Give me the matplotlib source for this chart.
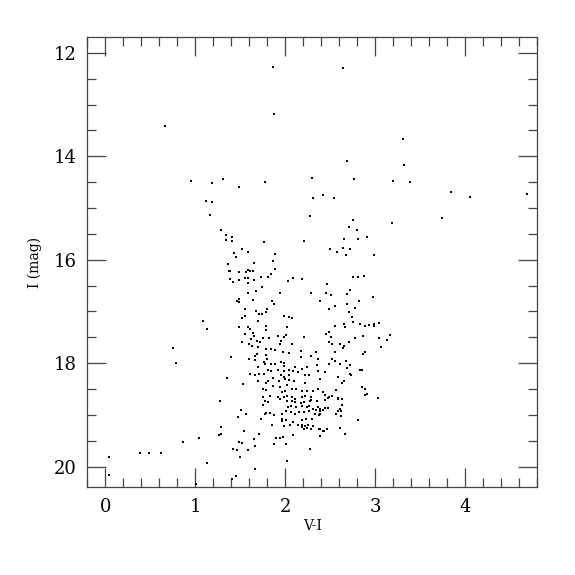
import matplotlib
matplotlib.use("Agg")
import matplotlib.pyplot as plt
from matplotlib.ticker import MultipleLocator

# colour-magnitude data: (V-I, I)
pts = [
    (1.86, 12.27), (2.64, 12.29), (0.66, 13.42), (1.87, 13.19), (3.31, 13.66),
    (2.68, 14.10), (3.32, 14.16), (0.95, 14.47), (1.18, 14.52), (1.31, 14.43),
    (1.48, 14.60), (1.77, 14.49), (2.30, 14.42), (2.76, 14.44), (3.20, 14.47),
    (3.39, 14.50), (3.84, 14.70), (4.05, 14.79), (4.69, 14.73), (2.31, 14.80),
    (2.42, 14.75), (2.54, 14.80), (1.12, 14.87), (1.18, 14.88), (1.16, 15.13),
    (2.27, 15.16), (2.75, 15.24), (2.71, 15.37), (3.18, 15.29), (3.74, 15.19),
    (1.28, 15.42), (1.34, 15.52), (1.34, 15.62), (1.36, 16.08), (1.37, 16.22),
    (1.09, 17.19), (1.13, 17.34), (0.75, 17.71), (0.79, 18.00), (1.35, 18.28),
    (1.27, 18.74), (1.28, 19.24), (1.28, 19.37), (1.26, 19.39), (0.86, 19.52),
    (1.04, 19.44), (0.38, 19.73), (0.49, 19.73), (0.62, 19.73), (1.13, 19.93),
    (1.01, 20.34), (0.04, 19.81), (0.04, 20.16),
    (1.41, 15.56), (1.41, 15.64), (1.76, 15.65), (2.21, 15.64), (1.52, 15.79),
    (1.58, 15.85), (1.43, 15.87), (1.45, 15.95), (1.89, 15.88), (1.65, 16.06),
    (1.86, 16.02), (1.88, 16.17), (1.39, 16.22), (1.48, 16.23), (1.56, 16.23),
    (1.58, 16.20), (1.61, 16.21), (1.64, 16.22), (1.84, 16.27), (1.39, 16.37),
    (1.42, 16.44), (1.55, 16.35), (1.58, 16.35), (1.48, 16.40), (1.59, 16.45),
    (1.65, 16.39), (1.73, 16.34), (1.81, 16.33), (2.03, 16.42), (2.09, 16.36),
    (2.18, 16.38), (1.74, 16.53), (1.58, 16.64), (1.67, 16.61), (1.94, 16.65),
    (2.29, 16.65), (1.46, 16.79), (1.48, 16.76), (1.64, 16.77), (1.85, 16.79),
    (1.87, 16.85), (1.48, 16.81), (1.55, 16.96), (1.80, 16.96), (2.38, 16.80),
    (1.67, 17.00), (1.71, 17.05), (1.74, 17.05), (1.79, 17.01), (1.55, 17.09),
    (1.52, 17.13), (1.98, 17.09), (2.04, 17.11), (2.07, 17.13), (1.70, 17.19),
    (1.48, 17.30), (1.59, 17.31), (1.61, 17.34), (1.78, 17.28), (1.79, 17.35),
    (2.02, 17.31), (1.55, 17.44), (1.64, 17.42), (1.65, 17.47), (1.75, 17.52),
    (1.62, 17.53), (1.82, 17.51), (1.92, 17.47), (1.99, 17.50), (2.01, 17.46),
    (2.21, 17.49), (1.52, 17.59), (1.60, 17.63), (1.68, 17.58), (1.72, 17.60),
    (1.95, 17.58), (1.94, 17.63), (2.07, 17.63), (1.63, 17.67), (1.70, 17.69),
    (1.79, 17.73), (1.84, 17.73), (1.89, 17.75), (2.17, 17.76), (2.34, 17.78),
    (1.40, 17.88), (1.60, 17.92), (1.66, 17.87), (1.68, 17.83), (1.78, 17.84),
    (1.80, 17.91), (1.97, 17.79), (2.04, 17.80), (2.17, 17.89), (2.29, 17.86),
    (2.36, 17.91), (1.66, 17.94), (1.76, 17.97), (1.77, 18.02), (1.84, 18.02),
    (1.88, 18.02), (1.95, 17.98), (1.99, 18.00), (1.98, 18.05), (1.70, 18.08),
    (2.11, 18.07), (2.24, 18.07), (2.35, 18.03), (1.81, 18.13), (1.84, 18.15),
    (1.92, 18.13), (2.04, 18.13), (2.08, 18.15), (1.99, 18.16), (2.19, 18.12),
    (2.14, 18.17), (2.36, 18.16), (1.61, 18.21), (1.71, 18.21), (1.66, 18.23),
    (1.76, 18.20), (1.95, 18.22), (2.04, 18.23), (2.22, 18.22), (2.26, 18.22),
    (1.98, 18.26), (2.00, 18.31), (1.81, 18.34), (1.86, 18.29), (1.70, 18.34),
    (1.93, 18.35), (2.04, 18.32), (2.10, 18.35), (1.53, 18.41), (1.79, 18.38),
    (2.02, 18.42), (2.22, 18.39), (1.86, 18.45), (1.94, 18.47), (1.75, 18.50),
    (1.78, 18.52), (2.07, 18.49), (2.12, 18.50), (2.24, 18.53), (2.31, 18.54),
    (2.18, 18.54), (1.96, 18.56), (2.00, 18.54), (2.36, 18.49), (1.83, 18.63),
    (1.92, 18.65), (1.98, 18.65), (2.02, 18.63), (2.07, 18.66), (2.18, 18.66),
    (2.22, 18.64), (2.28, 18.66), (1.75, 18.66), (1.94, 18.70), (2.11, 18.70),
    (2.29, 18.71),
    (1.77, 18.73), (1.81, 18.76), (1.75, 18.80), (2.02, 18.74), (2.07, 18.74),
    (2.11, 18.75), (2.17, 18.77), (2.21, 18.75), (2.27, 18.74), (2.35, 18.74),
    (2.06, 18.83), (2.03, 18.85), (2.12, 18.84), (2.18, 18.83), (2.24, 18.85),
    (2.26, 18.83), (2.31, 18.89), (2.36, 18.84), (1.51, 18.91), (2.01, 18.92),
    (2.06, 18.94), (2.15, 18.94), (2.21, 18.94), (2.26, 18.93), (2.34, 18.91),
    (1.79, 18.97), (1.83, 18.97), (1.87, 19.01), (1.56, 18.99), (1.77, 18.99),
    (1.96, 18.98), (2.11, 18.99), (2.33, 18.99), (2.37, 19.00), (1.47, 19.05),
    (1.73, 19.08), (1.96, 19.07), (2.01, 19.10), (1.96, 19.12), (2.18, 19.10),
    (2.23, 19.08), (2.30, 19.08), (2.08, 19.14), (1.85, 19.20), (2.05, 19.20),
    (2.14, 19.19), (2.19, 19.19), (2.22, 19.21), (2.25, 19.19), (2.31, 19.21),
    (1.99, 19.21), (2.18, 19.24), (2.24, 19.25), (2.28, 19.27), (2.21, 19.28),
    (2.37, 19.27), (1.54, 19.31), (1.71, 19.36), (2.09, 19.39), (1.65, 19.46),
    (1.90, 19.45), (1.94, 19.44), (1.97, 19.43), (1.49, 19.52), (1.52, 19.55),
    (2.01, 19.56), (1.87, 19.57), (1.66, 19.60), (2.27, 19.65), (1.42, 19.65),
    (1.46, 19.68), (1.59, 19.67), (1.50, 19.81), (2.02, 19.90), (1.66, 20.04),
    (1.45, 20.18), (1.41, 20.23),
    (2.80, 15.42), (2.65, 15.60), (2.81, 15.60), (2.91, 15.57), (2.50, 15.79),
    (2.57, 15.86), (2.64, 15.77), (2.72, 15.79), (2.67, 15.90), (2.98, 15.91),
    (2.75, 16.33), (2.81, 16.33), (2.87, 16.31), (2.46, 16.47), (2.45, 16.64),
    (2.51, 16.69), (2.72, 16.58), (2.69, 16.66), (2.97, 16.73), (2.82, 16.79),
    (2.55, 16.89), (2.49, 16.96), (2.68, 16.86), (2.77, 16.94), (2.71, 17.01),
    (2.74, 17.11), (2.75, 17.21), (2.65, 17.24), (2.66, 17.31), (2.55, 17.29),
    (2.83, 17.24), (2.89, 17.29), (2.93, 17.27), (2.98, 17.25), (2.98, 17.29),
    (3.04, 17.23), (2.45, 17.43), (2.48, 17.40), (2.51, 17.49), (2.77, 17.51),
    (2.86, 17.47), (3.04, 17.51), (3.16, 17.46), (3.13, 17.56), (3.06, 17.69),
    (2.49, 17.59), (2.52, 17.62), (2.61, 17.62), (2.65, 17.67), (2.64, 17.70),
    (2.71, 17.59), (2.55, 17.78), (2.88, 17.78), (2.86, 17.82), (2.52, 17.92),
    (2.55, 17.95), (2.49, 18.02), (2.61, 18.02), (2.67, 17.96), (2.72, 18.04),
    (2.69, 18.09), (2.83, 18.13), (2.85, 18.13), (2.44, 18.18), (2.72, 18.20),
    (2.73, 18.23), (2.39, 18.31), (2.58, 18.26), (2.63, 18.38), (2.65, 18.35),
    (2.85, 18.47), (2.89, 18.50), (2.91, 18.59), (2.88, 18.61), (2.56, 18.52),
    (3.03, 18.67), (2.42, 18.55), (2.44, 18.62), (2.52, 18.63), (2.47, 18.67),
    (2.49, 18.65), (2.59, 18.68), (2.63, 18.69), (2.59, 18.70), (2.44, 18.71),
    (2.63, 18.81), (2.39, 18.88), (2.42, 18.91), (2.44, 18.87), (2.47, 18.87),
    (2.38, 18.92), (2.39, 18.98), (2.59, 18.92), (2.61, 18.89), (2.62, 18.92),
    (2.56, 18.98), (2.62, 19.03), (2.81, 19.10), (2.39, 19.27), (2.42, 19.31),
    (2.43, 19.32), (2.46, 19.28), (2.61, 19.25), (2.66, 19.37), (2.38, 19.41),
]
vi = [p[0] for p in pts]
imag = [p[1] for p in pts]

plt.rcParams['font.family'] = ['DejaVu Serif']

fig = plt.figure(figsize=(5.75, 5.75), dpi=100)
ax = fig.add_axes([0.152, 0.1525, 0.7825, 0.7826])

ax.plot(vi, imag, 's', color='black', markersize=1.6, markeredgewidth=0)

ax.set_xlim(-0.2, 4.8)
ax.set_ylim(20.4, 11.7)

ax.xaxis.set_major_locator(MultipleLocator(1))
ax.xaxis.set_minor_locator(MultipleLocator(0.2))
ax.yaxis.set_major_locator(MultipleLocator(2))
ax.yaxis.set_minor_locator(MultipleLocator(0.5))
ax.tick_params(which='both', direction='in', top=True, right=True,
               color='#444444', width=0.9)
ax.tick_params(which='major', length=13.5, labelsize=13, pad=8)
ax.tick_params(which='minor', length=6.5)
for s in ax.spines.values():
    s.set_color('#444444')
    s.set_linewidth(0.9)

ax.set_xlabel('V-I', fontsize=10, labelpad=2)
ax.set_ylabel('I (mag)', fontsize=10, labelpad=8)

fig.savefig('out.png', dpi=100)
